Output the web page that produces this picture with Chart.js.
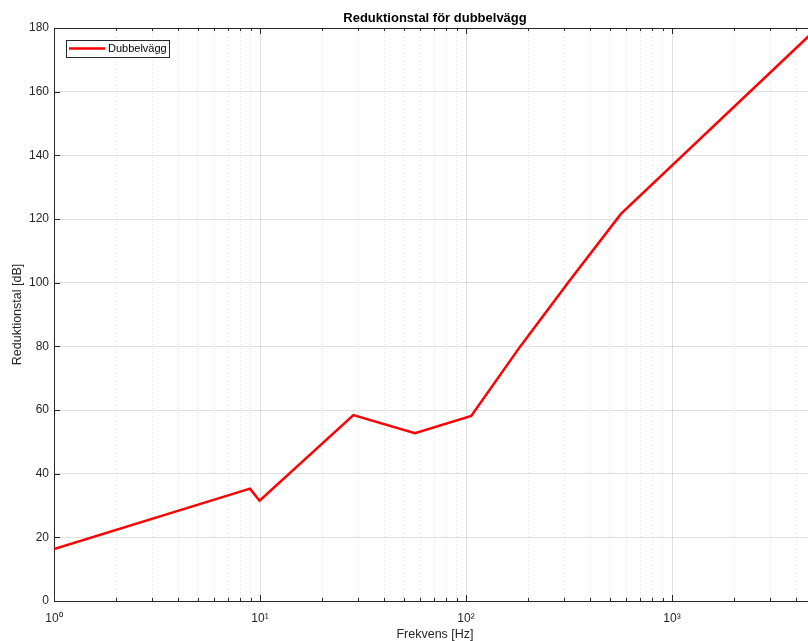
<!DOCTYPE html>
<html>
<head>
<meta charset="utf-8">
<script src="https://cdn.jsdelivr.net/npm/chart.js@4/dist/chart.umd.min.js"></script>
<style>
  html, body { margin: 0; padding: 0; background: #fff; overflow: hidden; }
  #wrap { width: 816px; height: 641px; }
</style>
</head>
<body>
<div id="wrap"><canvas id="g_reduktion"></canvas></div>
<script>
// frekvens [Hz] och reduktionstal [dB]
const freq = [1, 8.94, 9.95, 28.4, 56.5, 106, 183, 320, 565, 5000];
const reduktion = [16.3, 35.3, 31.5, 58.4, 52.7, 58.1, 79.9, 100.8, 121.6, 179.6];
// tick values on the log axis
const xTicks = [1, 2, 3, 4, 5, 6, 7, 8, 9,
  10, 20, 30, 40, 50, 60, 70, 80, 90,
  100, 200, 300, 400, 500, 600, 700, 800, 900,
  1000, 2000, 3000, 4000, 5000];
const xLabels = { 1: '10⁰', 10: '10¹', 100: '10²', 1000: '10³' };
const yTicks = [0, 20, 40, 60, 80, 100, 120, 140, 160, 180];

const isMajor = v => xLabels[v] !== undefined;
const axisColor = '#262626';
const gridMajor = 'rgba(38,38,38,0.15)';
const gridMinor = 'rgba(38,38,38,0.14)';

const decor = {
  id: 'decor',
  afterDraw(chart) {
    const { ctx, chartArea: a, scales: { x, y } } = chart;
    ctx.save();
    ctx.strokeStyle = axisColor;
    ctx.lineWidth = 1;
    ctx.beginPath();
    ctx.moveTo(a.left, a.top + 0.5);
    ctx.lineTo(a.right, a.top + 0.5);
    x.ticks.forEach(t => {
      const px = Math.round(x.getPixelForValue(t.value)) + 0.5;
      const len = isMajor(t.value) ? 6 : 3;
      ctx.moveTo(px, a.bottom); ctx.lineTo(px, a.bottom - len);
      ctx.moveTo(px, a.top); ctx.lineTo(px, a.top + len);
    });
    y.ticks.forEach(t => {
      const py = Math.round(y.getPixelForValue(t.value)) + 0.5;
      ctx.moveTo(a.left, py); ctx.lineTo(a.left + 6, py);
      ctx.moveTo(a.right, py); ctx.lineTo(a.right - 6, py);
    });
    ctx.stroke();

    // legend box
    ctx.fillStyle = '#fff';
    ctx.fillRect(66.5, 40.5, 103, 17);
    ctx.strokeRect(66.5, 40.5, 103, 17);
    ctx.strokeStyle = '#ff0000';
    ctx.lineWidth = 2.5;
    ctx.beginPath();
    ctx.moveTo(69, 48.5); ctx.lineTo(105, 48.5);
    ctx.stroke();
    ctx.fillStyle = '#000';
    ctx.font = '11px "Liberation Sans", Arial, sans-serif';
    ctx.textBaseline = 'middle';
    ctx.textAlign = 'left';
    ctx.fillText('Dubbelvägg', 108, 49);
    ctx.restore();
  }
};

const font = { family: '"Liberation Sans", Arial, sans-serif', size: 12 };

new Chart(document.getElementById('g_reduktion').getContext('2d'), {
  type: 'line',
  data: {
    datasets: [{
      label: 'Dubbelvägg',
      data: freq.map((f, i) => ({ x: f, y: reduktion[i] })),
      borderColor: '#ff0000',
      borderWidth: 2.5,
      pointRadius: 0,
      tension: 0,
      fill: false
    }]
  },
  options: {
    responsive: true,
    maintainAspectRatio: false,
    animation: false,
    layout: { padding: 0 },
    plugins: {
      legend: { display: false },
      tooltip: { enabled: false },
      title: {
        display: true,
        fullSize: false,
        text: 'Reduktionstal för dubbelvägg',
        color: '#000',
        font: { family: font.family, size: 13, weight: 'bold' },
        padding: { top: 11, bottom: 1.4 }
      }
    },
    scales: {
      x: {
        type: 'logarithmic',
        min: 1,
        max: 5000,
        afterBuildTicks: s => { s.ticks = xTicks.map(v => ({ value: v, major: isMajor(v) })); },
        afterFit: s => { s.height = 40; s.paddingLeft = 0; s.paddingRight = 0; },
        ticks: {
          autoSkip: false, maxRotation: 0, minRotation: 0, padding: 10,
          color: axisColor, font: font,
          callback: v => xLabels[v] || ''
        },
        grid: {
          drawTicks: false,
          color: c => (c.tick && isMajor(c.tick.value)) ? gridMajor : gridMinor
        },
        border: {
          color: axisColor, width: 1,
          dash: c => (c.tick && !isMajor(c.tick.value)) ? [1, 3] : []
        },
        title: {
          display: true, text: 'Frekvens [Hz]', color: axisColor,
          font: { family: font.family, size: 12.5 }, padding: { top: 0, bottom: -1.5 }
        }
      },
      y: {
        min: 0,
        max: 180,
        afterBuildTicks: s => { s.ticks = yTicks.map(v => ({ value: v })); },
        afterFit: s => { s.width = 54; },
        ticks: { padding: 5, color: axisColor, font: font },
        grid: { drawTicks: false, color: gridMajor },
        border: { color: axisColor, width: 1 },
        title: {
          display: true, text: 'Reduktionstal [dB]', color: axisColor,
          font: { family: font.family, size: 12.5 }, padding: { top: 10, bottom: 0 }
        }
      }
    }
  },
  plugins: [decor]
});
</script>
</body>
</html>
